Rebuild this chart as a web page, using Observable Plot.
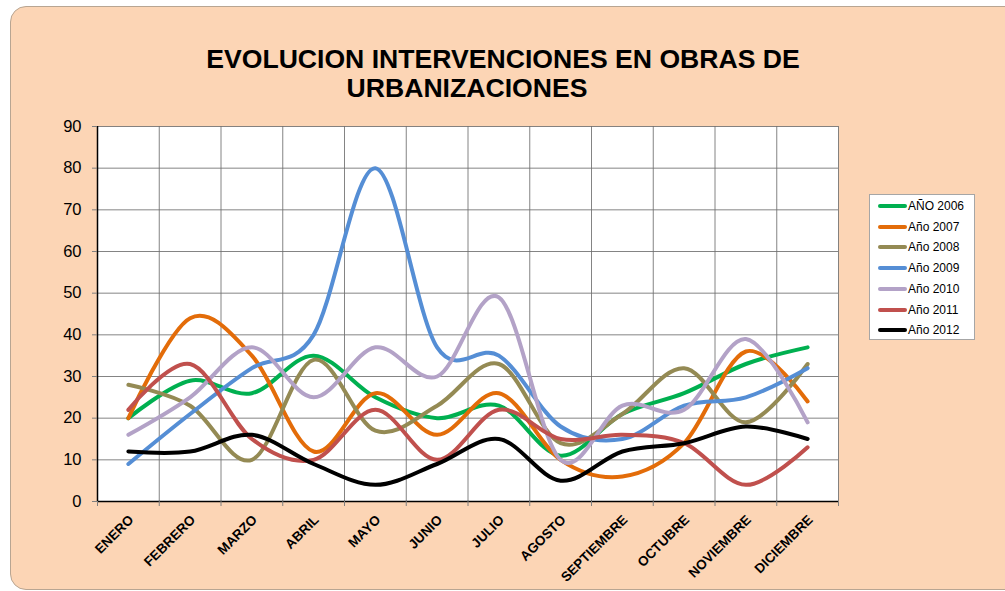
<!DOCTYPE html>
<html>
<head>
<meta charset="utf-8">
<script src="https://cdn.jsdelivr.net/npm/d3@7"></script>
<script src="https://cdn.jsdelivr.net/npm/@observablehq/plot@0.6"></script>
<style>
  html, body { margin: 0; padding: 0; background: #ffffff; width: 1005px; height: 591px; overflow: hidden; font-family: "Liberation Sans", Arial, sans-serif; }
  #panel { position: absolute; left: 10px; top: 6px; width: 1010px; height: 582px; background: #FCD5B5; border: 1px solid #b8a592; border-radius: 16px; }
  #chart { position: absolute; left: 0; top: 0; }
  .title { position: absolute; font-weight: bold; font-size: 26.6px; color: #000; white-space: nowrap; transform: translateX(-50%); line-height: 1; }
  #legend { position: absolute; left: 869px; top: 194px; width: 106px; height: 146px; background: #fff; border: 1px solid #a6a6a6; box-sizing: border-box; }
  .lg { position: absolute; left: 0; height: 16px; display: flex; align-items: center; font-size: 12px; color: #000; white-space: nowrap; }
  .lg span.sw { display: inline-block; width: 29px; height: 4px; border-radius: 2px; margin-left: 8px; margin-right: 1px; }
</style>
</head>
<body>
<div id="panel"></div>
<div id="chart"></div>
<div class="title" style="left:503px; top:46px;">EVOLUCION INTERVENCIONES EN OBRAS DE</div>
<div class="title" style="left:467px; top:75px;">URBANIZACIONES</div>
<div id="legend"></div>
<script>
const months = ["ENERO","FEBRERO","MARZO","ABRIL","MAYO","JUNIO","JULIO","AGOSTO","SEPTIEMBRE","OCTUBRE","NOVIEMBRE","DICIEMBRE"];
const seriesNames = ["AÑO 2006","Año 2007","Año 2008","Año 2009","Año 2010","Año 2011","Año 2012"];
const seriesColors = ["#00B050","#E36C09","#948A54","#558ED5","#B3A2C7","#C0504D","#000000"];
const a2006 = [20, 29, 26, 35, 25, 20, 23, 11, 21, 26, 33, 37];
const a2007 = [20, 44, 35, 12, 26, 16, 26, 10, 6, 14, 36, 24];
const a2008 = [28, 23, 10, 34, 17, 23, 33, 14, 21, 32, 19, 33];
const a2009 = [9, 21, 32, 40, 80, 37, 35, 18, 15, 23, 25, 32];
const a2010 = [16, 25, 37, 25, 37, 30, 49, 10, 23, 22, 39, 19];
const a2011 = [22, 33, 15, 10, 22, 10, 22, 15, 16, 14, 4, 13];
const a2012 = [12, 12, 16, 9, 4, 9, 15, 5, 12, 14, 18, 15];
const yTicks = [0, 10, 20, 30, 40, 50, 60, 70, 80, 90];

const allSeries = [a2006, a2007, a2008, a2009, a2010, a2011, a2012];
const rows = [];
allSeries.forEach((vals, s) => vals.forEach((v, i) => rows.push({serie: seriesNames[s], mi: i, value: v})));
const boundaries = d3.range(months.length + 1).map(i => i - 0.5);

const chart = Plot.plot({
  width: 1005,
  height: 591,
  marginLeft: 97,
  marginRight: 167,
  marginTop: 126,
  marginBottom: 90,
  style: {background: "transparent", fontFamily: "'Liberation Sans', Arial, sans-serif", color: "#000"},
  x: {type: "linear", domain: [-0.5, months.length - 0.5]},
  y: {domain: [0, 90]},
  color: {domain: seriesNames, range: seriesColors},
  marks: [
    Plot.frame({fill: "white", stroke: "none"}),
    Plot.gridY(yTicks, {stroke: "#6f6f6f", strokeOpacity: 0.85, strokeWidth: 1}),
    Plot.gridX(boundaries, {stroke: "#6f6f6f", strokeOpacity: 0.85, strokeWidth: 1}),
    Plot.line(rows, {x: "mi", y: "value", z: "serie", stroke: "serie", strokeWidth: 4, curve: "cardinal"}),
    Plot.ruleX([-0.5], {stroke: "#000", strokeWidth: 1.5}),
    Plot.ruleY([0], {stroke: "#000", strokeWidth: 1.5}),
    Plot.axisY(yTicks, {tickSize: 5, tickPadding: 11, fontSize: 16.5, label: null, stroke: "#7f7f7f"}),
    Plot.axisX(boundaries, {tickSize: 5, tickFormat: () => "", label: null, stroke: "#7f7f7f"}),
    Plot.text(months, {x: (d, i) => i, y: () => 0, text: d => d, rotate: -45, textAnchor: "end", lineAnchor: "middle", dx: 3, dy: 16, fontSize: 13.5, fontWeight: "bold"})
  ]
});
document.getElementById("chart").appendChild(chart);

const legend = document.getElementById("legend");
seriesNames.forEach((name, i) => {
  const row = document.createElement("div");
  row.className = "lg";
  row.style.top = (3 + i * 20.7) + "px";
  const sw = document.createElement("span");
  sw.className = "sw";
  sw.style.background = seriesColors[i];
  row.appendChild(sw);
  row.appendChild(document.createTextNode(name));
  legend.appendChild(row);
});
</script>
</body>
</html>
